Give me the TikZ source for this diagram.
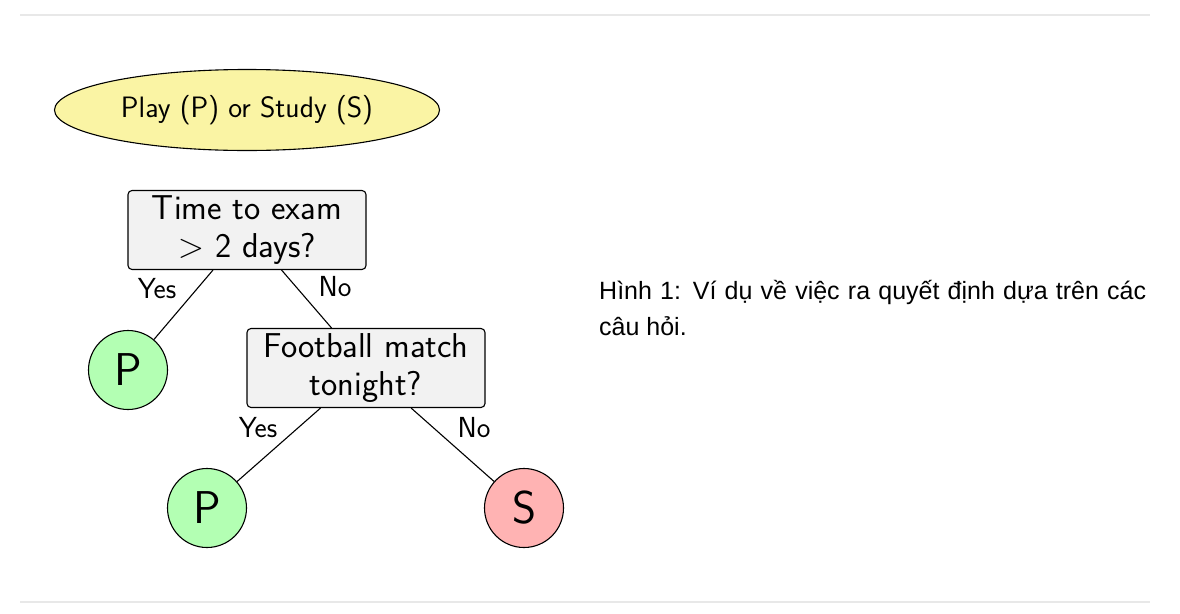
\RequirePackage{fix-cm}
\documentclass[tikz,border=0pt]{standalone}
\usepackage{fontspec}
\newfontfamily\capfont{Liberation Sans}
\usetikzlibrary{shapes.geometric}
\definecolor{elfill}{RGB}{250,244,164}
\definecolor{boxfill}{RGB}{242,242,242}
\definecolor{leafgreen}{RGB}{179,255,179}
\definecolor{leafred}{RGB}{255,179,179}
\definecolor{rulegray}{RGB}{232,232,232}
\tikzset{
  title/.style={ellipse, draw, line width=1.1pt, fill=elfill, minimum width=385pt, minimum height=81pt, inner sep=0pt, font=\sffamily\fontsize{29.5}{34}\selectfont},
  qbox/.style={rectangle, rounded corners=4pt, draw, line width=1.1pt, fill=boxfill, minimum width=238pt, minimum height=79pt, inner sep=0pt, align=center, font=\sffamily\fontsize{34.5}{38}\selectfont},
  leaf/.style={circle, draw, line width=1.1pt, minimum size=79pt, inner sep=0pt, font=\sffamily\fontsize{46}{46}\selectfont},
  elabel/.style={font=\sffamily\fontsize{29}{29}\selectfont, inner sep=0pt},
  edge/.style={line width=1.1pt},
  rule/.style={draw=rulegray, line width=1.2pt}
}
\begin{document}
\begin{tikzpicture}[x=1pt,y=-1pt]
\useasboundingbox (0,0) rectangle (1180,613);
\coordinate (r1a) at (20,15); \coordinate (r1b) at (1150,15);
\coordinate (r2a) at (20,602); \coordinate (r2b) at (1150,602);
\draw[rule] (r1a) -- (r1b);
\draw[rule] (r2a) -- (r2b);
\node[title] (t) at (247,110) {Play (P) or Study (S)};
\node[qbox] (q1) at (247,230) {Time to exam\\$>$ 2 days?};
\node[qbox] (q2) at (366,368) {Football match\\tonight?};
\node[leaf, fill=leafgreen] (p1) at (128,370) {P};
\node[leaf, fill=leafgreen] (p2) at (207,508) {P};
\node[leaf, fill=leafred] (s) at (524,508) {S};
\draw[edge] (q1) -- (p1);
\draw[edge] (q1) -- (q2);
\draw[edge] (q2) -- (p2);
\draw[edge] (q2) -- (s);
\node[elabel] (y1) at (157,289) {Yes};
\node[elabel] (n1) at (335,287) {No};
\node[elabel] (y2) at (258,428) {Yes};
\node[elabel] (n2) at (474,428) {No};
\node[anchor=north west, inner sep=0pt, text width=547pt, align=justify, font=\capfont\fontsize{25}{36}\selectfont] (cap) at (599,280) {Hình 1: Ví dụ về việc ra quyết định dựa trên các câu hỏi.};
\end{tikzpicture}
\end{document}
